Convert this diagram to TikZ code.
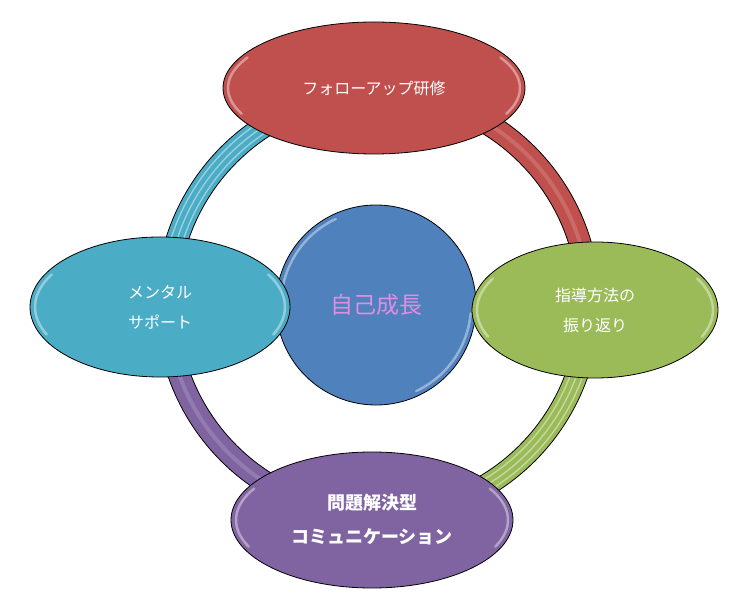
\documentclass[tikz,border=0pt]{standalone}
\usepackage{fontspec}
\setmainfont{Noto Sans CJK JP}
\usetikzlibrary{shapes.geometric}

\definecolor{rouge}{RGB}{192,80,77}
\definecolor{turquoise}{RGB}{75,172,198}
\definecolor{vert}{RGB}{155,187,89}
\definecolor{violet}{RGB}{128,100,162}
\definecolor{bleu}{RGB}{79,129,189}
\definecolor{rose}{RGB}{228,140,226}

\tikzset{
  bulle/.style={ellipse, draw=black, line width=0.8pt, text=white, align=center,
    font=\fontsize{16}{30}\selectfont},
  lustre/.style={white, opacity=0.4, line width=2.5pt, line cap=round}
}

\begin{document}
\begin{tikzpicture}[x=1pt, y=1pt]
    \useasboundingbox (0,0) rectangle (747,608);
    \coordinate (anneau) at (378,304);

    % anneau en quatre quarts
    \foreach \a/\c in {0/rouge, 90/turquoise, 180/violet, 270/vert} {
        \filldraw[fill=\c, draw=black, line width=0.8pt] ([shift={(\a:222)}]anneau) arc (\a:\a+90:222)
            -- ([shift={(\a+90:200)}]anneau) arc (\a+90:\a:200) -- cycle;
    }
    % reflets
    \foreach \a in {90, 270} {
        \foreach \r in {205, 211, 217} { \draw[white, opacity=0.45, line width=1.3pt] ([shift={(\a:\r)}]anneau) arc (\a:\a+90:\r); }
    }
    \foreach \a in {0, 180} { \draw[white, opacity=0.15, line width=4pt] ([shift={(\a:211)}]anneau) arc (\a:\a+90:211); }

    % centre
    \node[circle, fill=bleu, draw=black, line width=0.8pt, minimum size=200pt, text=rose,
        font=\fontsize{23}{23}\selectfont] (soi) at (376,303) {自己成長};
    \draw[lustre] ([shift={(115:95)}]soi.center) arc (115:175:95);
    \draw[lustre] ([shift={(-65:95)}]soi.center) arc (-65:-5:95);

    % ellipses
    \node[bulle, fill=rouge, minimum width=302pt, minimum height=132pt] (suivi) at (374,520) {フォローアップ研修};
    \node[bulle, fill=turquoise, minimum width=260pt, minimum height=140pt] (mental) at (160,301) {メンタル\\サポート};
    \node[bulle, fill=vert, minimum width=246pt, minimum height=136pt] (retour) at (595,298) {指導方法の\\振り返り};
    \node[bulle, fill=violet, minimum width=282pt, minimum height=136pt,
        font=\fontsize{18}{34}\selectfont\bfseries] (comm) at (372,88) {問題解決型\\コミュニケーション};

    \foreach \n/\rx/\ry in {suivi/146/61, mental/125/65, retour/118/63, comm/136/63} {
        \draw[lustre] ([shift={(150:\rx pt and \ry pt)}]\n.center) arc [start angle=150, end angle=205, x radius=\rx, y radius=\ry];
        \draw[lustre] ([shift={(-25:\rx pt and \ry pt)}]\n.center) arc [start angle=-25, end angle=30, x radius=\rx, y radius=\ry];
    }
\end{tikzpicture}
\end{document}
